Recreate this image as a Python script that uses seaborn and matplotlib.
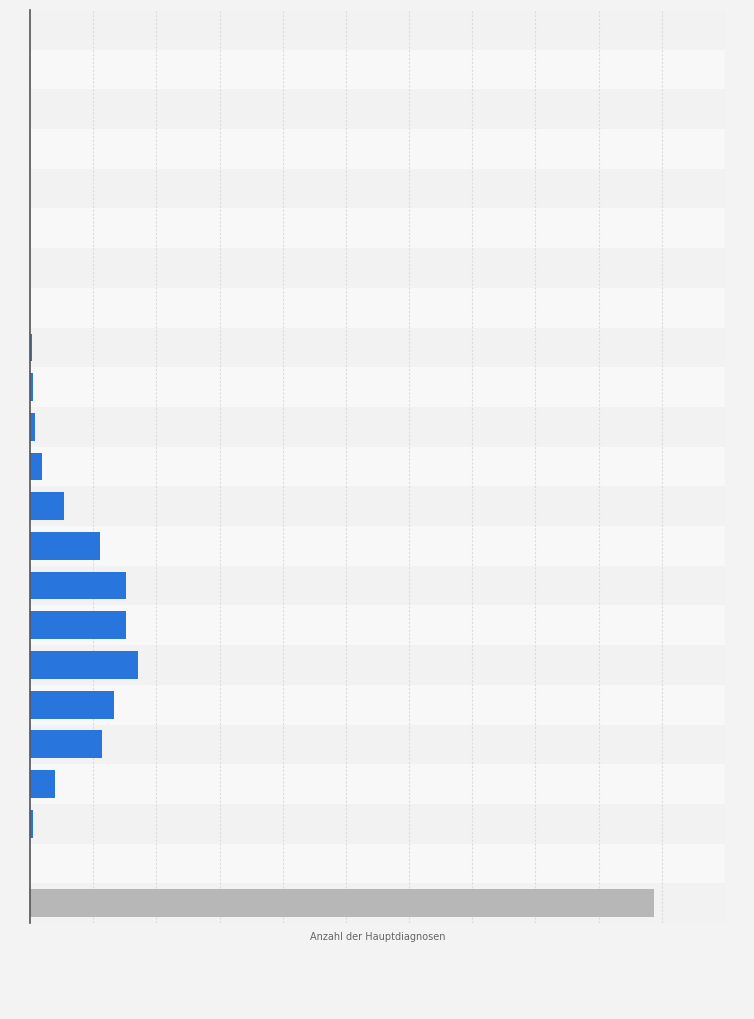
import numpy as np
import pandas as pd
import seaborn as sns
import matplotlib.pyplot as plt

# Altersgruppen (Beschriftungen sind im Original ausgeblendet)
gruppen = ['unter 1', '1-5', '5-10', '10-15', '15-20', '20-25', '25-30', '30-35',
           '35-40', '40-45', '45-50', '50-55', '55-60', '60-65', '65-70', '70-75',
           '75-80', '80-85', '85-90', '90-95', '95 und älter', 'unbekannt', 'Insgesamt']
# Anzahl der Hauptdiagnosen
anzahl = [0, 0, 0, 0, 0, 0, 0, 0,
          130, 240, 400, 950, 2700, 5550, 7600, 7600,
          8550, 6650, 5700, 1950, 240, 0, 49400]

farben = ['#2876dd'] * (len(gruppen) - 1) + ['#b7b7b7']

df = pd.DataFrame({'gruppe': gruppen, 'anzahl': anzahl})

sns.set_style('white')
plt.rcParams['font.family'] = ['DejaVu Sans']

fig = plt.figure(figsize=(7.54, 10.2), dpi=100)
fig.patch.set_facecolor('#f3f3f3')
ax = fig.add_axes([30 / 754, 1 - 924 / 1020, 695 / 754, 913 / 1020])
ax.set_facecolor('#f8f8f8')

# abwechselnde Zeilen
for i in range(len(gruppen)):
    ax.axhspan(i - 0.5, i + 0.5, color='#f2f2f2' if i % 2 == 0 else '#f8f8f8',
               lw=0, zorder=0)

sns.barplot(data=df, x='anzahl', y='gruppe', hue='gruppe', palette=farben,
            saturation=1, legend=False, orient='h', width=0.7,
            linewidth=0, ax=ax, zorder=3)

ax.set_xlim(0, 55000)
ax.set_ylim(len(gruppen) - 0.5, -0.5)
ax.set_xticks(np.arange(5000, 55001, 5000))
ax.xaxis.grid(True, color='#dcdcdc', ls=(0, (2, 1.5)), lw=0.8, zorder=1)
ax.set_axisbelow(True)
ax.tick_params(length=0, labelbottom=False, labelleft=False)
ax.set_ylabel('')
ax.set_xlabel('Anzahl der Hauptdiagnosen', fontsize=7, color='#666666', labelpad=6)

for s in ['top', 'right', 'bottom']:
    ax.spines[s].set_visible(False)
ax.spines['left'].set_color('#555555')
ax.spines['left'].set_linewidth(1.2)
ax.spines['left'].set_zorder(5)

fig.savefig('out.png', dpi=100, facecolor=fig.get_facecolor())
